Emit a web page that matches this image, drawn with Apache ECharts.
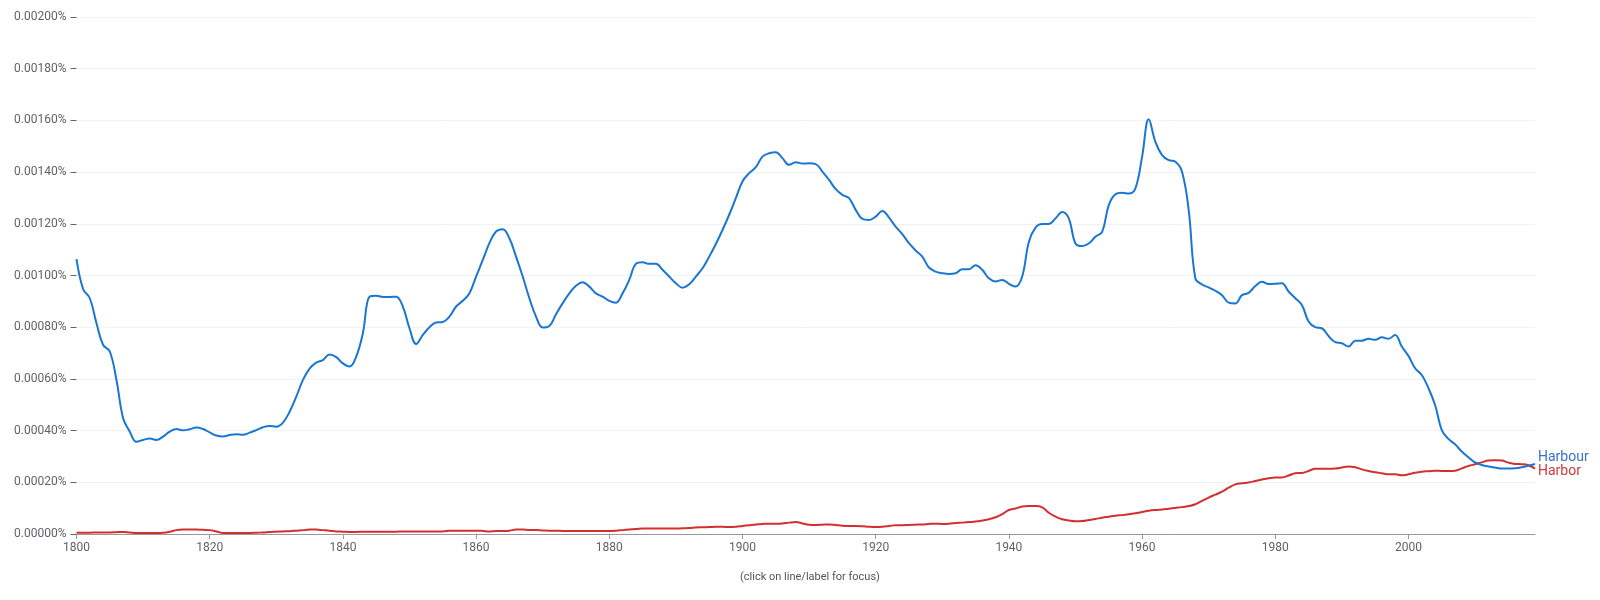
<!DOCTYPE html>
<html>
<head>
<meta charset="utf-8">
<script src="https://cdn.jsdelivr.net/npm/echarts@6/dist/echarts.min.js"></script>
<style>
html,body{margin:0;padding:0;background:#fff;}
#chart{width:1600px;height:600px;}
</style>
</head>
<body>
<div id="chart"></div>
<script>
// Years 1800..2019
const startYear = 1800;
const endYear = 2019;
const xTickYears = [1800, 1820, 1840, 1860, 1880, 1900, 1920, 1940, 1960, 1980, 2000];
const yTickValues = [0, 20, 40, 60, 80, 100, 120, 140, 160, 180, 200]; // units of 0.00001%

const seriesNames = ['Harbour', 'Harbor'];

// values in units of 0.00001 %
const harbour = [
106.3,94.7,91.2,81.5,73.1,70.6,59.6,44.8,39.6,35.7,
36.4,36.9,36.4,37.7,39.6,40.6,40.1,40.5,41.2,40.6,
39.3,38.1,37.7,38.3,38.6,38.4,39.2,40.2,41.3,41.8,
41.5,43.1,47.3,53.1,59.6,64.0,66.3,67.3,69.4,68.4,
66.0,64.8,68.6,77.7,91.8,92.2,91.7,91.7,91.8,88.0,
79.6,73.5,77.0,80.0,81.8,82.0,84.1,88.0,90.2,93.1,
99.6,106.0,112.5,117.0,117.9,114.4,107.3,99.6,91.2,84.1,
79.9,80.5,85.0,89.3,93.1,96.0,97.4,95.7,93.1,91.8,
90.2,89.5,93.1,98.3,104.5,105.1,104.5,104.5,102.2,99.6,
97.0,95.3,96.6,99.6,102.8,107.3,112.2,117.6,123.5,129.9,
136.4,139.6,141.9,146.0,147.3,147.7,145.4,142.8,143.8,143.3,
143.4,143.1,140.2,137.0,133.4,131.2,129.9,125.4,121.9,121.5,
122.8,125.0,122.4,118.9,116.0,112.5,109.7,107.3,103.1,101.5,
100.9,100.6,100.9,102.4,102.4,104.0,102.2,98.9,97.7,98.3,
96.8,95.7,99.6,113.0,118.5,119.9,119.9,122.1,124.6,122.1,
112.4,111.4,112.4,115.0,116.9,127.2,131.4,132.0,131.7,133.7,
145.9,160.4,151.7,146.6,144.6,144.0,140.1,125.3,98.9,96.5,
95.4,94.1,92.4,89.5,89.2,92.4,93.3,95.9,97.6,96.7,
96.8,97.0,93.8,91.2,88.6,82.2,80.0,79.6,76.6,74.2,
73.8,72.5,74.8,74.8,75.5,75.1,76.1,75.5,77.0,72.5,
68.9,64.1,61.5,56.4,49.9,40.2,36.8,34.7,31.9,29.7,
27.7,26.7,26.1,25.7,25.3,25.3,25.4,25.8,26.4,27.1
];

const harbor = [
0.5,0.5,0.5,0.6,0.6,0.6,0.7,0.8,0.6,0.4,
0.4,0.4,0.4,0.5,0.9,1.5,1.7,1.7,1.7,1.6,
1.5,1.0,0.4,0.4,0.4,0.4,0.4,0.5,0.6,0.8,
0.9,1.0,1.1,1.3,1.5,1.7,1.7,1.5,1.3,1.0,
0.9,0.8,0.8,0.9,0.9,0.9,0.9,0.9,0.9,1.0,
1.0,1.0,1.0,1.0,1.0,1.0,1.3,1.3,1.3,1.3,
1.3,1.2,1.0,1.2,1.2,1.3,1.7,1.7,1.5,1.5,
1.4,1.3,1.3,1.2,1.2,1.2,1.2,1.2,1.2,1.2,
1.2,1.3,1.5,1.7,1.9,2.1,2.1,2.1,2.1,2.1,
2.1,2.2,2.3,2.5,2.6,2.7,2.8,2.8,2.7,2.8,
3.1,3.4,3.7,3.9,4.0,4.0,4.1,4.4,4.6,4.1,
3.6,3.5,3.6,3.7,3.5,3.2,3.1,3.1,3.0,2.8,
2.7,2.8,3.1,3.4,3.4,3.5,3.6,3.7,3.9,4.0,
3.9,4.0,4.3,4.4,4.6,4.8,5.2,5.7,6.5,7.7,
9.3,9.9,10.6,10.8,10.8,10.3,8.2,6.7,5.7,5.2,
4.9,5.0,5.4,5.8,6.3,6.7,7.1,7.3,7.6,8.0,
8.5,9.0,9.3,9.5,9.8,10.1,10.4,10.8,11.5,12.8,
14.1,15.2,16.4,17.9,19.2,19.6,19.9,20.5,21.1,21.6,
21.9,21.9,22.6,23.5,23.6,24.4,25.2,25.2,25.2,25.3,
25.7,26.1,25.8,25.0,24.4,23.9,23.5,23.1,23.1,22.7,
23.1,23.7,24.1,24.3,24.5,24.4,24.4,24.5,25.4,26.3,
27.0,27.7,28.4,28.5,28.4,27.6,27.1,27.0,26.6,25.3
];

const colors = ['#1976d2', '#d32f2f'];

function pairs(arr) {
  return arr.map((v, i) => [startYear + i, v]);
}

const chart = echarts.init(document.getElementById('chart'), null, {renderer: 'canvas'});
const fontFamily = 'Roboto, "Noto Sans", Arial, sans-serif';

chart.setOption({
  animation: false,
  backgroundColor: '#ffffff',
  title: {
    text: '(click on line/label for focus)',
    left: 805,
    top: 567,
    textAlign: 'center',
    textStyle: {fontSize: 11, fontWeight: 'normal', color: '#555', fontFamily: fontFamily}
  },
  grid: {left: 76.5, right: 65, top: 17, bottom: 66, containLabel: false},
  xAxis: {
    type: 'value',
    min: startYear,
    max: endYear,
    interval: 20,
    axisLine: {show: true, lineStyle: {color: '#999', width: 1}},
    axisTick: {show: true, length: 5, lineStyle: {color: '#999'}, customValues: xTickYears},
    axisLabel: {
      customValues: xTickYears,
      formatter: v => String(v),
      color: '#5f6368', fontSize: 12, fontFamily: fontFamily, margin: 8
    },
    splitLine: {show: false}
  },
  yAxis: {
    type: 'value',
    min: 0,
    max: 200,
    interval: 20,
    axisLine: {show: false},
    axisTick: {show: true, length: 6, lineStyle: {color: '#666'}},
    axisLabel: {
      formatter: v => (v * 1e-5).toFixed(5) + '%',
      color: '#5f6368', fontSize: 12, fontFamily: fontFamily, margin: 10
    },
    splitLine: {show: true, lineStyle: {color: '#f2f2f2', width: 1}}
  },
  series: [
    {
      name: seriesNames[0],
      type: 'line',
      data: pairs(harbour),
      smooth: 0.4,
      showSymbol: false,
      symbol: 'none',
      lineStyle: {color: colors[0], width: 2},
      itemStyle: {color: colors[0]},
      endLabel: {
        show: true,
        formatter: '{a}',
        color: '#3a70c9',
        fontSize: 14,
        fontFamily: fontFamily,
        distance: 3,
        offset: [0, -6]
      },
      z: 3
    },
    {
      name: seriesNames[1],
      type: 'line',
      data: pairs(harbor),
      smooth: 0.4,
      showSymbol: false,
      symbol: 'none',
      lineStyle: {color: colors[1], width: 2},
      itemStyle: {color: colors[1]},
      endLabel: {
        show: true,
        formatter: '{a}',
        color: '#cf3a3a',
        fontSize: 14,
        fontFamily: fontFamily,
        distance: 3,
        offset: [0, 3]
      },
      z: 2
    }
  ]
});
</script>
</body>
</html>
